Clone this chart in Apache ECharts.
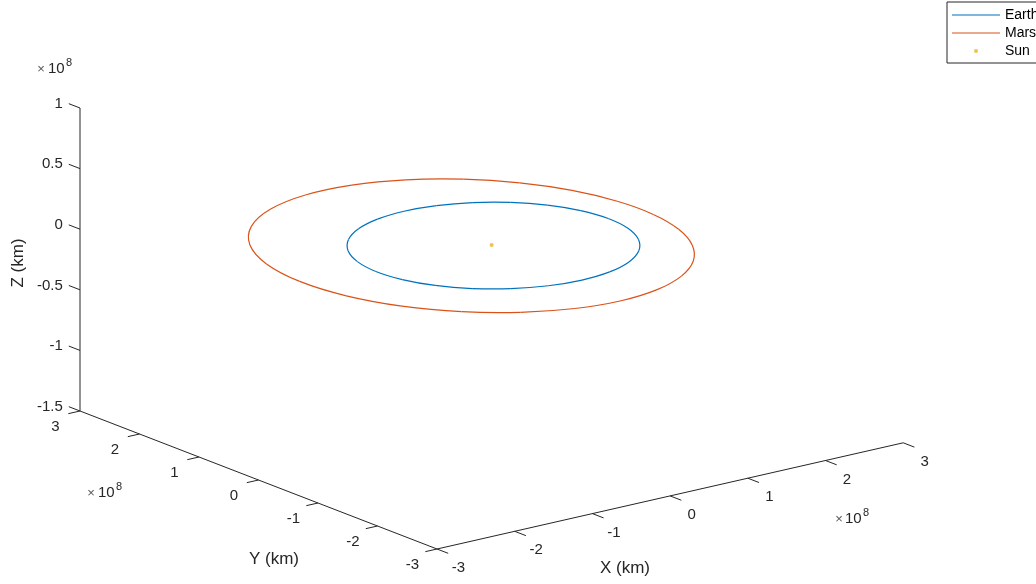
<!DOCTYPE html>
<html><head><meta charset="utf-8">
<script src="https://cdn.jsdelivr.net/npm/echarts@6/dist/echarts.min.js"></script>
<style>html,body{margin:0;padding:0;background:#fff}#c{width:1036px;height:584px}</style>
</head><body><div id="c"></div>
<script>
// All positions in units of 1e8 km (axes show "×10^8")
const earthX = [1.501,1.444,1.289,1.048,0.739,0.381,0.000,-0.381,-0.736,-1.043,-1.281,-1.433,-1.490,-1.446,-1.302,-1.067,-0.757,-0.393,0.000,0.394,0.760,1.073,1.310,1.456];
const earthY = [0.000,0.387,0.744,1.048,1.280,1.424,1.472,1.421,1.275,1.043,0.739,0.384,0.000,-0.387,-0.752,-1.067,-1.311,-1.466,-1.520,-1.469,-1.316,-1.073,-0.756,-0.390];
const earthZ = [0,0,0,0,0,0,0,0,0,0,0,0,0,0,0,0,0,0,0,0,0,0,0,0];
const marsX = [2.082,2.035,1.855,1.546,1.119,0.593,0.000,-0.621,-1.222,-1.750,-2.157,-2.404,-2.470,-2.353,-2.071,-1.653,-1.141,-0.576,0.000,0.552,1.050,1.470,1.791,1.998];
const marsY = [0.000,0.545,1.071,1.546,1.938,2.215,2.349,2.319,2.117,1.750,1.245,0.644,0.000,-0.631,-1.196,-1.653,-1.976,-2.151,-2.177,-2.061,-1.819,-1.470,-1.034,-0.535];
const marsZ = [-0.051,-0.039,-0.023,-0.006,0.013,0.032,0.049,0.064,0.074,0.080,0.079,0.073,0.061,0.045,0.026,0.006,-0.013,-0.031,-0.046,-0.057,-0.064,-0.067,-0.066,-0.060];
const sunXYZ = [0, 0, 0];
const xTicks = [-3,-2,-1,0,1,2,3];
const yTicks = [-3,-2,-1,0,1,2,3];
const zTicks = [-1.5,-1,-0.5,0,0.5,1];
const xLabels = ['-3','-2','-1','0','1','2','3'];
const yLabels = ['-3','-2','-1','0','1','2','3'];
const zLabels = ['-1.5','-1','-0.5','0','0.5','1'];
const xRange = [-3, 3], yRange = [-3, 3], zRange = [-1.5, 1];

// view projection (screen units per 1e8 km along each 3D axis)
const VIEW = { origin: [491.6, 245.1], ex: [77.7, -17.7], ey: [-59.5, -23.0], ez: [0, -121.2] };
function proj(x, y, z) {
  return [VIEW.origin[0] + x * VIEW.ex[0] + y * VIEW.ey[0] + z * VIEW.ez[0],
          VIEW.origin[1] + x * VIEW.ex[1] + y * VIEW.ey[1] + z * VIEW.ez[1]];
}
const FONT = '"Liberation Sans", Arial, Helvetica, sans-serif';
const TXT = '#262626';
const axisPath = [proj(xRange[0], yRange[1], zRange[1]), proj(xRange[0], yRange[1], zRange[0]),
                  proj(xRange[0], yRange[0], zRange[0]), proj(xRange[1], yRange[0], zRange[0])];
const tickData = [];
xTicks.forEach((v, i) => tickData.push([0, v, i]));
yTicks.forEach((v, i) => tickData.push([1, v, i]));
zTicks.forEach((v, i) => tickData.push([2, v, i]));
const TL = 12;
function unit(v) { const l = Math.hypot(v[0], v[1]); return [v[0] / l, v[1] / l]; }

// closed orbit drawn as a smooth curve through the sampled points (one segment per point)
function orbitSeries(name, X, Y, Z, color) {
  const pts = X.map((x, i) => proj(x, Y[i], Z[i]));
  return {
    name: name, type: 'custom', data: pts, z: 3, silent: true,
    itemStyle: { color: color },
    renderItem: function (params, api) {
      const n = pts.length, i = params.dataIndex;
      const P = k => api.coord(pts[((k % n) + n) % n]);
      const p0 = P(i - 1), p1 = P(i), p2 = P(i + 1), p3 = P(i + 2);
      return {
        type: 'bezierCurve',
        shape: { x1: p1[0], y1: p1[1], x2: p2[0], y2: p2[1],
                 cpx1: p1[0] + (p2[0] - p0[0]) / 6, cpy1: p1[1] + (p2[1] - p0[1]) / 6,
                 cpx2: p2[0] - (p3[0] - p1[0]) / 6, cpy2: p2[1] - (p3[1] - p1[1]) / 6 },
        style: { stroke: color, fill: 'none', lineWidth: 1.2 }
      };
    }
  };
}

const chart = echarts.init(document.getElementById('c'), null, { renderer: 'canvas' });
chart.setOption({
  animation: false,
  backgroundColor: '#fff',
  grid: { left: 0, top: 0, width: 1036, height: 584, containLabel: false },
  xAxis: { type: 'value', min: 0, max: 1036, show: false },
  yAxis: { type: 'value', min: 0, max: 584, inverse: true, show: false },
  legend: {
    left: 947, top: 2, orient: 'vertical',
    data: [
      { name: 'Earth', icon: 'path://M0,0L48,0L48,1.2L0,1.2Z' },
      { name: 'Mars', icon: 'path://M0,0L48,0L48,1.2L0,1.2Z' },
      { name: 'Sun', icon: 'circle' }
    ],
    itemWidth: 48, itemHeight: 4, itemGap: 0,
    padding: [4, 40, 3, 5],
    borderColor: '#262626', borderWidth: 1, backgroundColor: '#fff',
    textStyle: { color: '#000', fontSize: 14, fontFamily: FONT, lineHeight: 18 }
  },
  graphic: [
    { type: 'text', x: 18, y: 263, rotation: Math.PI / 2, style: { text: 'Z (km)', font: '17px ' + FONT, fill: TXT, align: 'center', verticalAlign: 'middle' } },
    { type: 'text', x: 274, y: 559, style: { text: 'Y (km)', font: '17px ' + FONT, fill: TXT, align: 'center', verticalAlign: 'middle' } },
    { type: 'text', x: 625, y: 568, style: { text: 'X (km)', font: '17px ' + FONT, fill: TXT, align: 'center', verticalAlign: 'middle' } },
    // x10^8 multipliers
    { type: 'text', x: 41, y: 69, style: { text: '×', font: '13px ' + FONT, fill: '#555', align: 'center', verticalAlign: 'middle' } },
    { type: 'text', x: 48, y: 69, style: { text: '10', font: '15px ' + FONT, fill: TXT, align: 'left', verticalAlign: 'middle' } },
    { type: 'text', x: 66, y: 63, style: { text: '8', font: '11px ' + FONT, fill: TXT, align: 'left', verticalAlign: 'middle' } },
    { type: 'text', x: 91, y: 493, style: { text: '×', font: '13px ' + FONT, fill: '#555', align: 'center', verticalAlign: 'middle' } },
    { type: 'text', x: 98, y: 493, style: { text: '10', font: '15px ' + FONT, fill: TXT, align: 'left', verticalAlign: 'middle' } },
    { type: 'text', x: 116, y: 487, style: { text: '8', font: '11px ' + FONT, fill: TXT, align: 'left', verticalAlign: 'middle' } },
    { type: 'text', x: 839, y: 519, style: { text: '×', font: '13px ' + FONT, fill: '#555', align: 'center', verticalAlign: 'middle' } },
    { type: 'text', x: 845, y: 519, style: { text: '10', font: '15px ' + FONT, fill: TXT, align: 'left', verticalAlign: 'middle' } },
    { type: 'text', x: 863, y: 513, style: { text: '8', font: '11px ' + FONT, fill: TXT, align: 'left', verticalAlign: 'middle' } }
  ],
  series: [
    { name: 'axes', type: 'line', data: axisPath, symbol: 'none', silent: true,
      lineStyle: { color: TXT, width: 1 }, z: 1 },
    { name: 'ticks', type: 'custom', data: tickData, silent: true, z: 1,
      renderItem: function (params, api) {
        const kind = api.value(0), v = api.value(1), idx = api.value(2);
        let p0, dir, labPos, text, align;
        if (kind === 0) {
          p0 = api.coord(proj(v, yRange[0], zRange[0]));
          dir = unit([-VIEW.ey[0], -VIEW.ey[1]]);
          labPos = [p0[0] + 21.5, p0[1] + 19]; text = xLabels[idx]; align = 'center';
        } else if (kind === 1) {
          p0 = api.coord(proj(xRange[0], v, zRange[0]));
          dir = unit([-VIEW.ex[0], -VIEW.ex[1]]);
          labPos = [p0[0] - 24.5, p0[1] + 16]; text = yLabels[idx]; align = 'center';
        } else {
          p0 = api.coord(proj(xRange[0], yRange[1], v));
          dir = unit([VIEW.ey[0], VIEW.ey[1]]);
          const e = [p0[0] + dir[0] * TL, p0[1] + dir[1] * TL];
          labPos = [e[0] - 6, e[1]]; text = zLabels[idx]; align = 'right';
        }
        const p1 = [p0[0] + dir[0] * TL, p0[1] + dir[1] * TL];
        return { type: 'group', children: [
          { type: 'line', shape: { x1: p0[0], y1: p0[1], x2: p1[0], y2: p1[1] }, style: { stroke: TXT, lineWidth: 1 } },
          { type: 'text', x: labPos[0], y: labPos[1], style: { text: text, font: '15px ' + FONT, fill: TXT, align: align, verticalAlign: 'middle' } }
        ] };
      }
    },
    orbitSeries('Earth', earthX, earthY, earthZ, '#0072BD'),
    orbitSeries('Mars', marsX, marsY, marsZ, '#D95319'),
    { name: 'Sun', type: 'scatter', data: [proj(sunXYZ[0], sunXYZ[1], sunXYZ[2])], symbol: 'circle', symbolSize: 4,
      itemStyle: { color: '#EDB120' }, z: 4 }
  ]
});
</script>
</body></html>
